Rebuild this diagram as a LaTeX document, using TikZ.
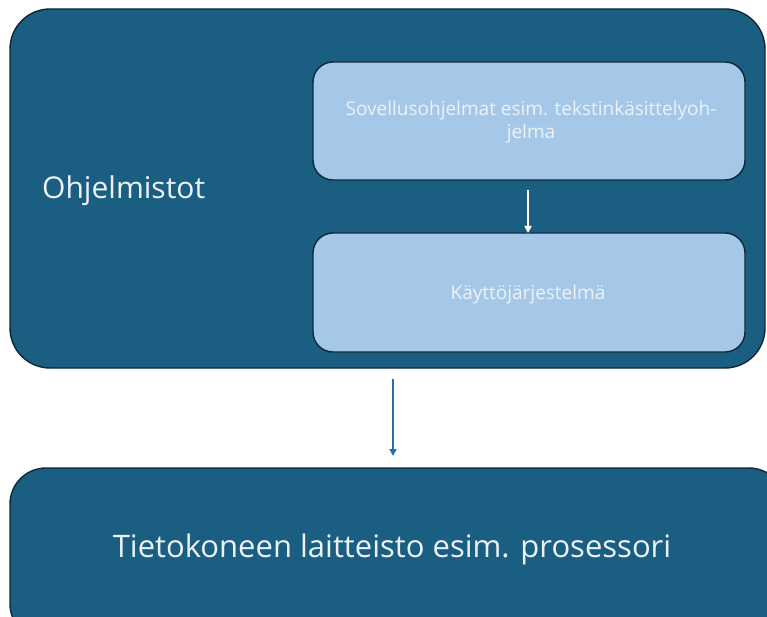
\documentclass[tikz,border=0pt]{standalone}
\usepackage{fontspec}
\setmainfont{Open Sans}
\usetikzlibrary{arrows.meta}
\definecolor{darkfill}{RGB}{26,94,130}
\definecolor{lightfill}{RGB}{166,200,232}
\definecolor{edge}{RGB}{14,40,56}
\definecolor{arrowblue}{RGB}{38,110,170}
\definecolor{softwhite}{RGB}{236,242,248}
\tikzset{
  outerbox/.style={draw=edge, line width=1.4pt, fill=darkfill, rounded corners=40pt},
  innerbox/.style={draw=edge, line width=1.4pt, fill=lightfill, rounded corners=20pt},
  innertext/.style={text=softwhite, font=\fontsize{19}{23}\selectfont, align=center},
}
\begin{document}
\begin{tikzpicture}[x=1pt,y=-1pt]
\useasboundingbox (0,0) rectangle (767,617);
\clip (0,0) rectangle (767,617);
% outer boxes
\draw[outerbox] (10,9) rectangle (765,368);
\draw[outerbox, rounded corners=36pt] (10,468) rectangle (785,640);
% inner boxes
\draw[innerbox] (313,62) rectangle (745,180);
\draw[innerbox] (313,233) rectangle (745,352);
% nodes (texts)
\node[anchor=base west, inner sep=0pt, text=softwhite, font=\fontsize{30}{36}\selectfont] (soft) at (42,199) {Ohjelmistot};
\node[innertext] (app) at (531,122.5) {Sovellusohjelmat esim. tekstinkäsittelyoh-\\jelma};
\node[innertext, anchor=base] (os) at (528,299) {Käyttöjärjestelmä};
\node[anchor=base, text=softwhite, font=\fontsize{31}{36}\selectfont] (hw) at (392,557) {Tietokoneen laitteisto esim. prosessori};
\coordinate (a1) at (528,190);
\coordinate (a2) at (528,233);
\coordinate (b1) at (393,379);
\coordinate (b2) at (393,456);
\draw[white, line width=1.6pt, -{Triangle[length=7pt,width=7pt]}] (a1) -- (a2);
\draw[arrowblue, line width=1.6pt, -{Triangle[length=7pt,width=7pt]}] (b1) -- (b2);
\end{tikzpicture}
\end{document}
